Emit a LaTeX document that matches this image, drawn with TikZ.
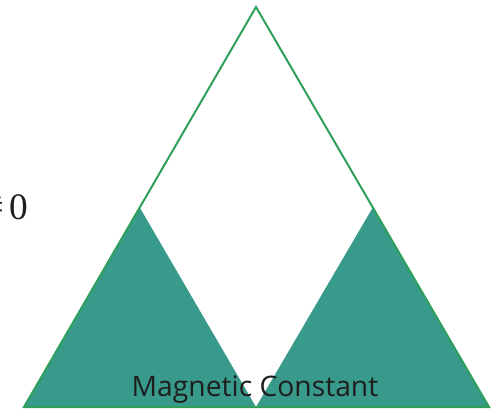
\documentclass[tikz,border=0pt]{standalone}
\usepackage{fontspec}
\setmainfont{Liberation Serif}
\newfontfamily\labelfont{Open Sans}
\definecolor{tealfill}{RGB}{56,154,138}
\definecolor{edgegreen}{RGB}{46,160,92}
\definecolor{txt}{RGB}{30,30,30}
\begin{document}
\begin{tikzpicture}[x=0.75pt,y=-0.75pt,
  outline/.style={draw=edgegreen,line width=1.5pt,line join=miter},
  filltri/.style={fill=tealfill}]
\useasboundingbox (0,0) rectangle (500,412);
\clip (0,0) rectangle (500,412);
\coordinate (apex) at (256,7);
\coordinate (bl) at (24,407);
\coordinate (br) at (489,407);
\coordinate (bm) at (256,407);
\coordinate (la) at (140,208);
\coordinate (ra) at (372.5,208);
\fill[filltri] (la) -- (bl) -- (bm) -- cycle;
\fill[filltri] (ra) -- (bm) -- (br) -- cycle;
\draw[outline] (apex) -- (bl) -- (br) -- cycle;
\node[anchor=base,text=txt,inner sep=0pt,font=\labelfont\fontsize{21.2}{25}\selectfont] (lbl) at (255,396) {Magnetic Constant};
\node[anchor=base east,text=txt,inner sep=0pt,font=\fontsize{28}{32}\selectfont] (neq) at (28,219) {≠\kern4pt 0};
\end{tikzpicture}
\end{document}
